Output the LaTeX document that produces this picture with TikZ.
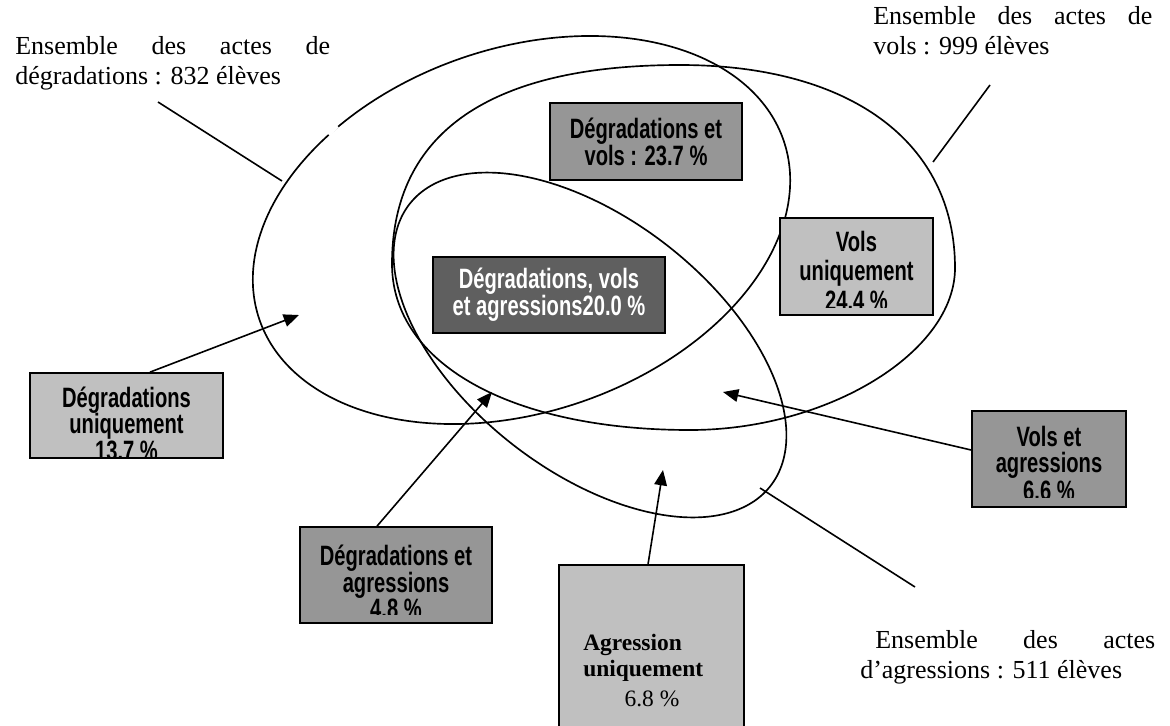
\documentclass[tikz,border=0pt]{standalone}
\usepackage{fontspec}
\setmainfont{Liberation Serif}
\newfontfamily\boxfont[FakeStretch=0.72]{Liberation Sans Bold}
\usetikzlibrary{arrows.meta,fit}
\definecolor{lg}{HTML}{C0C0C0}
\definecolor{mg}{HTML}{969696}
\definecolor{dg}{HTML}{5F5F5F}
\tikzset{
  ell/.style={line width=1.25pt},
  ln/.style={line width=1.2pt},
  arr/.style={line width=1.2pt,-{Triangle[length=11.5pt,width=9.5pt]}},
  box/.style={draw=black,line width=1.3pt,inner sep=0pt},
  btxt/.style={font=\boxfont\fontsize{21}{19}\selectfont,inner sep=0pt,anchor=base},
  ttxt/.style={font=\fontsize{19.5}{22.5}\selectfont,inner sep=0pt,anchor=base west},
  atxt/.style={font=\fontsize{17.6}{20}\selectfont,inner sep=0pt,anchor=base west}
}
\begin{document}
\begin{tikzpicture}[x=0.75pt,y=-0.75pt]
\useasboundingbox (0,0) rectangle (1170,725);
% ellipses
\draw[ell] plot[domain=0:360,samples=145,smooth]
  ({521.5+277*cos(\x)*cos(-18.8)-182*sin(\x)*sin(-18.8)},{230+277*cos(\x)*sin(-18.8)+182*sin(\x)*cos(-18.8)}) -- cycle;
\draw[white,line width=2.8pt] (328.5,134.5) -- (337.5,126);
\draw[ell] (392,264) .. controls (392,132.7) and (489.9,65) .. (680,65)
  .. controls (850.5,65) and (955,142.1) .. (955,268)
  .. controls (955,352.2) and (827.8,430) .. (690,430)
  .. controls (511.2,430) and (392,363.6) .. (392,264) -- cycle;
\draw[ell] plot[domain=0:360,samples=145,smooth]
  ({590+229*cos(\x)*cos(38)-126*sin(\x)*sin(38)},{345+229*cos(\x)*sin(38)+126*sin(\x)*cos(38)}) -- cycle;
% texts
\node[ttxt] (t1a) at (15,54) {\makebox[236.25pt][s]{Ensemble des actes de}};
\node[ttxt] (t1b) at (15,84) {dégradations : 832 élèves};
\node[ttxt] (t2a) at (873,24) {\makebox[209.25pt][s]{Ensemble des actes de}};
\node[ttxt] (t2b) at (873,54) {vols : 999 élèves};
\node[ttxt] (t3a) at (875,648) {\makebox[210pt][s]{Ensemble des actes}};
\node[ttxt] (t3b) at (860,678) {d’agressions : 511 élèves};
% boxes
\node[box,fill=mg,fit={(550,103) (742,180)}] (dv) {};
\node[btxt] (dv1) at (646,138) {Dégradations et};
\node[btxt] (dv2) at (646,165) {vols : 23.7 \%};
\node[box,fill=dg,fit={(433,257) (665,333)}] (dva) {};
\node[btxt,text=white] (dva1) at (549,288) {Dégradations, vols};
\node[btxt,text=white] (dva2) at (549,315) {et agressions20.0 \%};
\node[box,fill=lg,fit={(780,218) (933,315)}] (vu) {};
\begin{scope}
\clip (780,218) rectangle (933,307);
\node[btxt] (vu1) at (856.5,251) {Vols};
\node[btxt] (vu2) at (856.5,280) {uniquement};
\node[btxt] (vu3) at (856.5,310) {24.4 \%};
\end{scope}
\node[box,fill=lg,fit={(30,373) (223,458)}] (du) {};
\begin{scope}
\clip (30,373) rectangle (223,456);
\node[btxt] (du1) at (126.5,407) {Dégradations};
\node[btxt] (du2) at (126.5,433) {uniquement};
\node[btxt] (du3) at (126.5,460) {13.7 \%};
\end{scope}
\node[box,fill=mg,fit={(300,527) (492,623)}] (da) {};
\begin{scope}
\clip (300,527) rectangle (492,614);
\node[btxt] (da1) at (396,565) {Dégradations et};
\node[btxt] (da2) at (396,592) {agressions};
\node[btxt] (da3) at (396,618) {4.8 \%};
\end{scope}
\node[box,fill=mg,fit={(972,411) (1126,507)}] (va) {};
\begin{scope}
\clip (972,411) rectangle (1126,497);
\node[btxt] (va1) at (1049,446) {Vols et};
\node[btxt] (va2) at (1049,472) {agressions};
\node[btxt] (va3) at (1049,500) {6.6 \%};
\end{scope}
\node[box,fill=lg,fit={(559,565) (744,740)}] (ag) {};
\node[atxt] (agt1) at (583,650) {\bfseries Agression};
\node[atxt] (agt2) at (583,676) {\bfseries uniquement};
\node[atxt,anchor=base] (agt3) at (652,706) {6.8 \%};
% connectors
\coordinate (s1) at (158,102);
\coordinate (e1) at (282,181);
\coordinate (s2) at (990,85);
\coordinate (e2) at (933,162);
\coordinate (e3) at (760,488);
\coordinate (s3) at (915,587);
\coordinate (p1) at (299,315);
\coordinate (p2) at (492,392);
\coordinate (p3) at (663,470);
\coordinate (p4) at (723,392);
\draw[ln] (s1) -- (e1);
\draw[ln] (s2) -- (e2);
\draw[ln] (s3) -- (e3);
\draw[arr] ([xshift=17.6pt]du.north) -- (p1);
\draw[arr] ([xshift=-14.25pt]da.north) -- (p2);
\draw[arr] ([xshift=-2.6pt]ag.north) -- (p3);
\draw[arr] ([yshift=6.75pt]va.west) -- (p4);
\end{tikzpicture}
\end{document}
